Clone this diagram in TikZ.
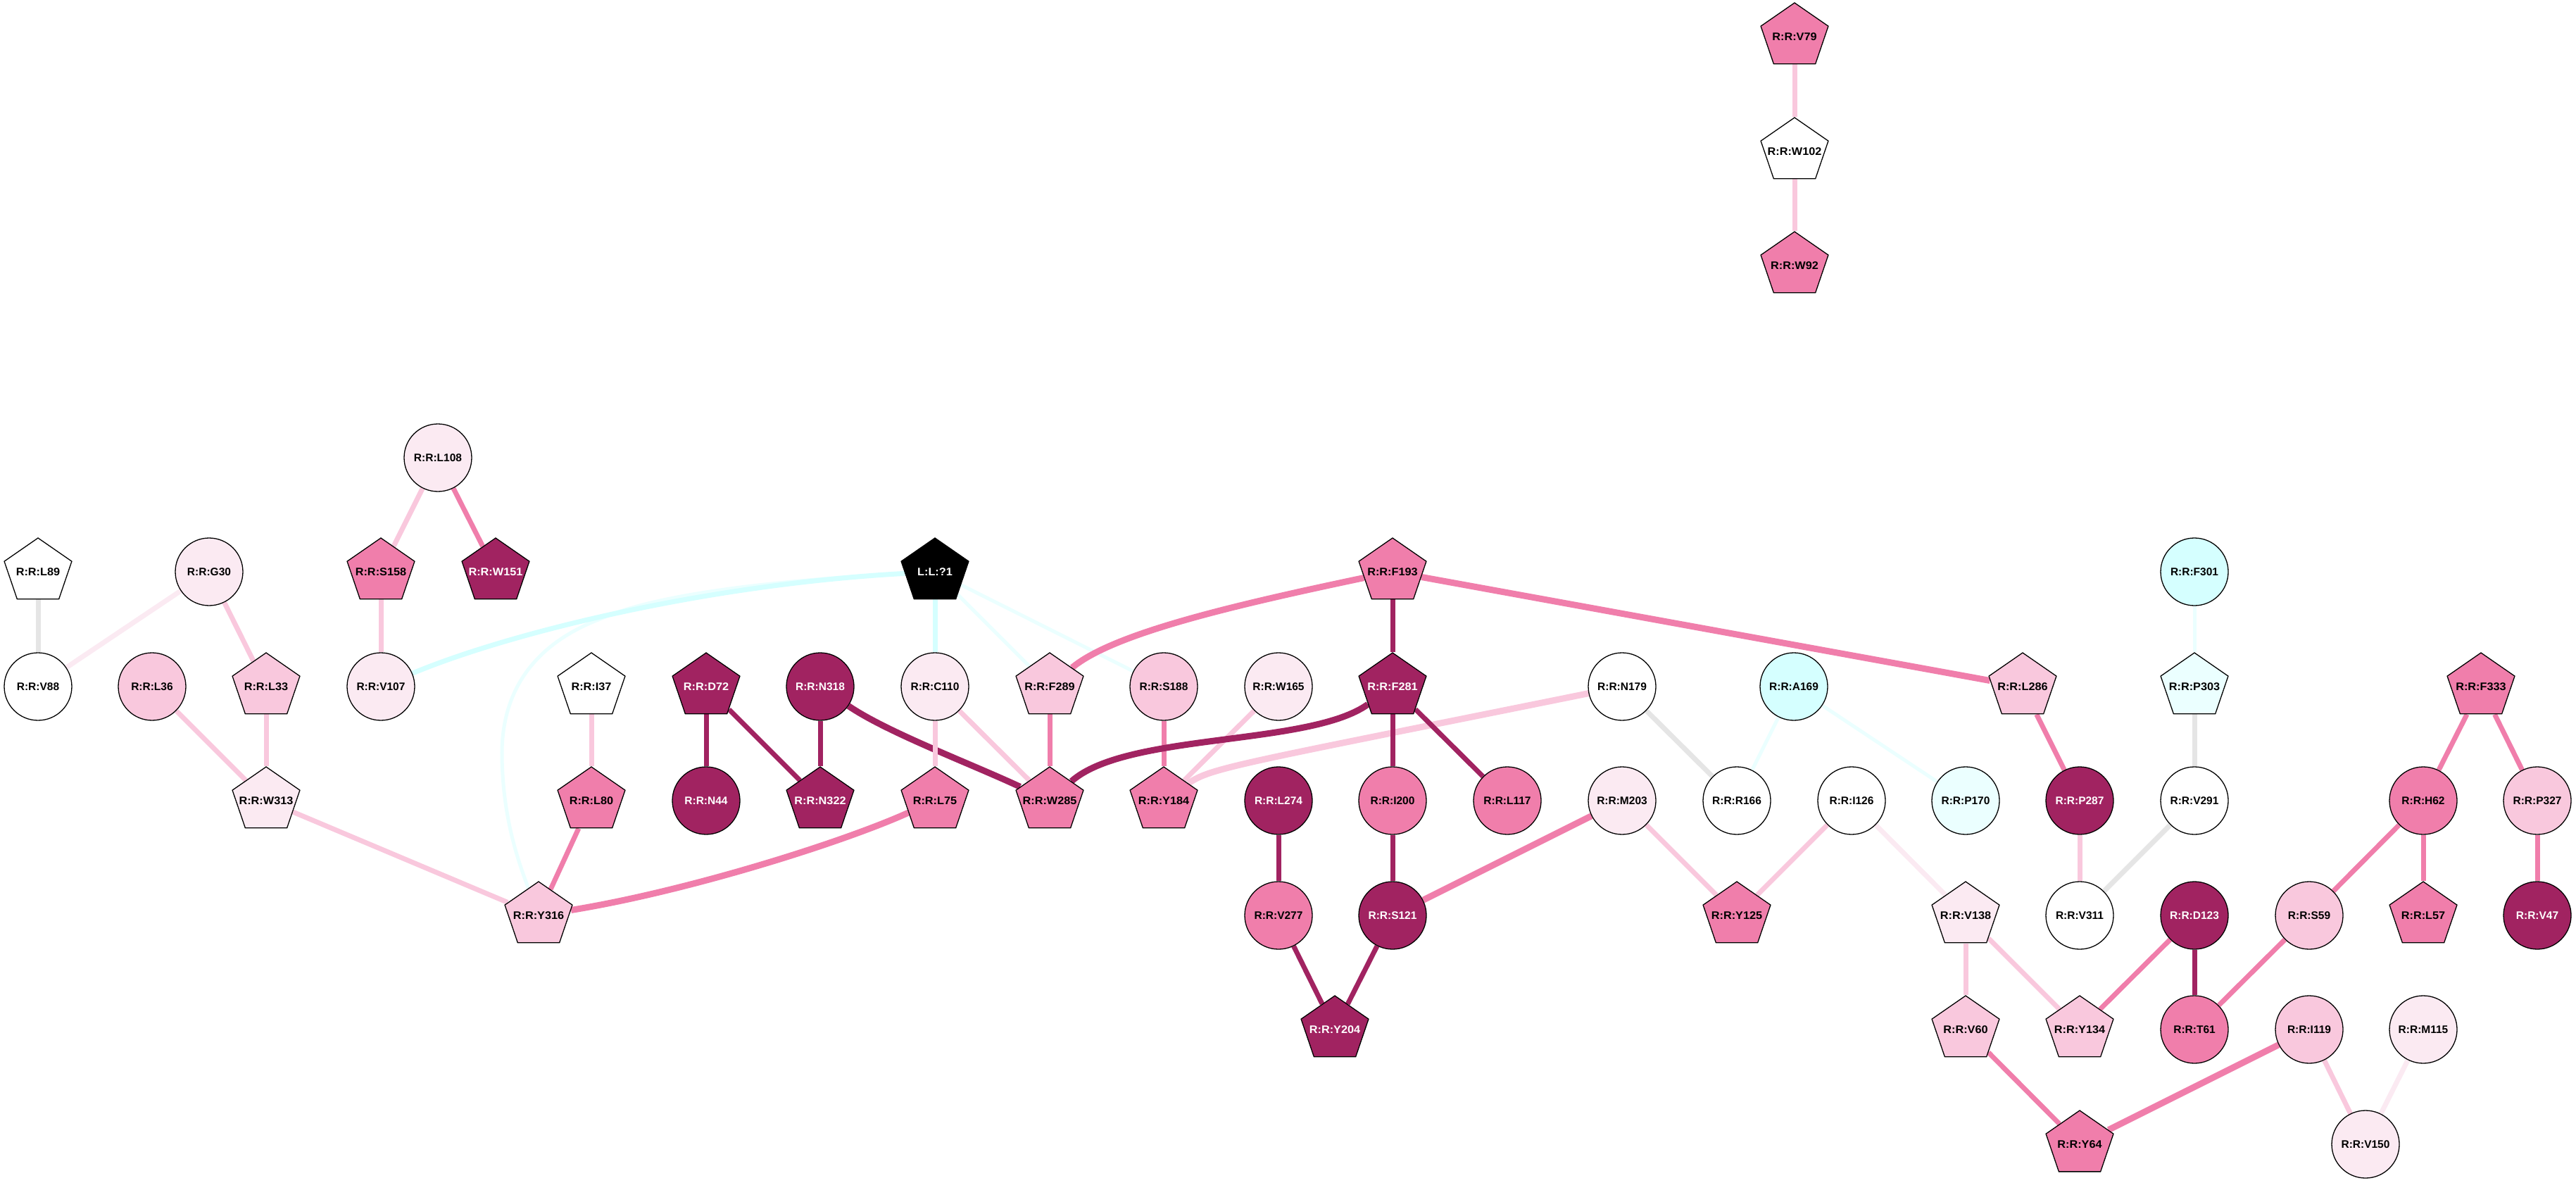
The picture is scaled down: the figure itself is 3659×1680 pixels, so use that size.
\documentclass[tikz,border=0pt]{standalone}
\usepackage{fontspec}
\setmainfont{Liberation Sans}
\usetikzlibrary{shapes.geometric,backgrounds}
\definecolor{cdark}{HTML}{A12361}
\definecolor{cmed}{HTML}{F07EAB}
\definecolor{clight}{HTML}{F9C8DD}
\definecolor{cvlight}{HTML}{FBEAF2}
\definecolor{ccyan}{HTML}{D5FFFF}
\definecolor{cvcyan}{HTML}{EBFFFF}
\definecolor{cgrey}{HTML}{E5E5E5}
\newcommand{\lblfont}{\fontsize{15.5}{18}\selectfont\bfseries}
\newcommand{\lbx}[1]{\makebox[0pt]{#1}}
\tikzset{
  base/.style={draw=black, line width=1.3, inner sep=0, font=\lblfont, text=black},
  pent/.style={base, regular polygon, regular polygon sides=5, minimum size=96, xscale=1.05},
  circ/.style={base, circle, minimum size=96},
  dk/.style={fill=cdark, text=white},
  md/.style={fill=cmed},
  lt/.style={fill=clight},
  vl/.style={fill=cvlight},
  wh/.style={fill=white},
  cy/.style={fill=ccyan},
  vc/.style={fill=cvcyan},
  bk/.style={fill=black, text=white},
  edge/.style={line width=7},
  edk/.style={edge, draw=cdark},
  emd/.style={edge, draw=cmed},
  elt/.style={edge, draw=clight},
  evl/.style={edge, draw=cvlight},
  egr/.style={edge, draw=cgrey},
  ecy/.style={edge, draw=ccyan},
  evc/.style={edge, draw=cvcyan},
  thk/.style={line width=9},
  thn/.style={line width=5},
}
\begin{document}
\begin{tikzpicture}[x=1pt, y=-1pt]
\useasboundingbox (0,0) rectangle (3659,1680);
% top component
\node[pent, md] (V79) at (2549,52) {\lbx{R:R:V79}};
\node[pent, wh] (W102) at (2549,215) {\lbx{R:R:W102}};
\node[pent, md] (W92) at (2549,377) {\lbx{R:R:W92}};
% row 650
\node[circ, vl] (L108) at (622,650) {\lbx{R:R:L108}};
% row 812
\node[pent, wh] (L89) at (54,812) {\lbx{R:R:L89}};
\node[circ, vl] (G30) at (297,812) {\lbx{R:R:G30}};
\node[pent, md] (S158) at (541,812) {\lbx{R:R:S158}};
\node[pent, dk] (W151) at (704,812) {\lbx{R:R:W151}};
\node[pent, bk] (L1) at (1328,812) {\lbx{L:L:?1}};
\node[pent, md] (F193) at (1978,812) {\lbx{R:R:F193}};
\node[circ, cy] (F301) at (3117,812) {\lbx{R:R:F301}};
% row 975
\node[circ, wh] (V88) at (54,975) {\lbx{R:R:V88}};
\node[circ, lt] (L36) at (216,975) {\lbx{R:R:L36}};
\node[pent, lt] (L33) at (378,975) {\lbx{R:R:L33}};
\node[circ, vl] (V107) at (541,975) {\lbx{R:R:V107}};
\node[pent, wh] (I37) at (840,975) {\lbx{R:R:I37}};
\node[pent, dk] (D72) at (1003,975) {\lbx{R:R:D72}};
\node[circ, dk] (N318) at (1165,975) {\lbx{R:R:N318}};
\node[circ, vl] (C110) at (1328,975) {\lbx{R:R:C110}};
\node[pent, lt] (F289) at (1491,975) {\lbx{R:R:F289}};
\node[circ, lt] (S188) at (1653,975) {\lbx{R:R:S188}};
\node[circ, vl] (W165) at (1816,975) {\lbx{R:R:W165}};
\node[pent, dk] (F281) at (1978,975) {\lbx{R:R:F281}};
\node[circ, wh] (N179) at (2304,975) {\lbx{R:R:N179}};
\node[circ, cy] (A169) at (2548,975) {\lbx{R:R:A169}};
\node[pent, lt] (L286) at (2873,975) {\lbx{R:R:L286}};
\node[pent, vc] (P303) at (3117,975) {\lbx{R:R:P303}};
\node[pent, md] (F333) at (3524,975) {\lbx{R:R:F333}};
% row 1137
\node[pent, vl] (W313) at (378,1137) {\lbx{R:R:W313}};
\node[pent, md] (L80) at (840,1137) {\lbx{R:R:L80}};
\node[circ, dk] (N44) at (1003,1137) {\lbx{R:R:N44}};
\node[pent, dk] (N322) at (1165,1137) {\lbx{R:R:N322}};
\node[pent, md] (L75) at (1328,1137) {\lbx{R:R:L75}};
\node[pent, md] (W285) at (1491,1137) {\lbx{R:R:W285}};
\node[pent, md] (Y184) at (1653,1137) {\lbx{R:R:Y184}};
\node[circ, dk] (L274) at (1816,1137) {\lbx{R:R:L274}};
\node[circ, md] (I200) at (1978,1137) {\lbx{R:R:I200}};
\node[circ, md] (L117) at (2141,1137) {\lbx{R:R:L117}};
\node[circ, vl] (M203) at (2304,1137) {\lbx{R:R:M203}};
\node[circ, wh] (R166) at (2467,1137) {\lbx{R:R:R166}};
\node[circ, wh] (I126) at (2630,1137) {\lbx{R:R:I126}};
\node[circ, vc] (P170) at (2792,1137) {\lbx{R:R:P170}};
\node[circ, dk] (P287) at (2954,1137) {\lbx{R:R:P287}};
\node[circ, wh] (V291) at (3117,1137) {\lbx{R:R:V291}};
\node[circ, md] (H62) at (3442,1137) {\lbx{R:R:H62}};
\node[circ, lt] (P327) at (3604,1137) {\lbx{R:R:P327}};
% row 1300
\node[pent, lt] (Y316) at (765,1300) {\lbx{R:R:Y316}};
\node[circ, md] (V277) at (1816,1300) {\lbx{R:R:V277}};
\node[circ, dk] (S121) at (1978,1300) {\lbx{R:R:S121}};
\node[pent, md] (Y125) at (2467,1300) {\lbx{R:R:Y125}};
\node[pent, vl] (V138) at (2792,1300) {\lbx{R:R:V138}};
\node[circ, wh] (V311) at (2954,1300) {\lbx{R:R:V311}};
\node[circ, dk] (D123) at (3117,1300) {\lbx{R:R:D123}};
\node[circ, lt] (S59) at (3280,1300) {\lbx{R:R:S59}};
\node[pent, md] (L57) at (3442,1300) {\lbx{R:R:L57}};
\node[circ, dk] (V47) at (3604,1300) {\lbx{R:R:V47}};
% row 1462
\node[pent, dk] (Y204) at (1896,1462) {\lbx{R:R:Y204}};
\node[pent, lt] (V60) at (2792,1462) {\lbx{R:R:V60}};
\node[pent, lt] (Y134) at (2954,1462) {\lbx{R:R:Y134}};
\node[circ, md] (T61) at (3117,1462) {\lbx{R:R:T61}};
\node[circ, lt] (I119) at (3280,1462) {\lbx{R:R:I119}};
\node[circ, vl] (M115) at (3442,1462) {\lbx{R:R:M115}};
% row 1625
\node[pent, md] (Y64) at (2954,1625) {\lbx{R:R:Y64}};
\node[circ, vl] (V150) at (3360,1625) {\lbx{R:R:V150}};

\begin{pgfonlayer}{background}
\fill[white] (0,0) rectangle (3659,1680);
% top
\draw[elt] (V79) -- (W102);
\draw[elt] (W102) -- (W92);
% left
\draw[egr] (L89) -- (V88);
\draw[evl] (G30) -- (V88);
\draw[elt] (G30) -- (L33);
\draw[elt] (L108) -- (S158);
\draw[emd] (L108) -- (W151);
\draw[elt] (S158) -- (V107);
\draw[elt] (L36) -- (W313);
\draw[elt] (L33) -- (W313);
\draw[elt] (W313) -- (Y316);
\draw[elt] (I37) -- (L80);
\draw[emd] (L80) -- (Y316);
\draw[edk] (D72) -- (N44);
\draw[edk] (D72) -- (N322);
\draw[edk] (N318) -- (N322);
\draw[edk, thk] (N318) .. controls (1260,1040) and (1380,1085) .. (W285);
\draw[emd, thk] (L75) .. controls (1200,1195) and (980,1265) .. (Y316);
% ligand
\draw[evc, thn] (L1) .. controls (1000,830) and (900,858) .. (850,880)
   .. controls (760,915) and (712,980) .. (713,1073)
   .. controls (714,1160) and (735,1220) .. (Y316);
\draw[ecy] (L1) .. controls (1000,830) and (720,900) .. (V107);
\draw[ecy] (L1) -- (C110);
\draw[evc, thn] (L1) -- (F289);
\draw[evc, thn] (L1) -- (S188);
% middle
\draw[elt] (C110) -- (L75);
\draw[elt] (C110) -- (W285);
\draw[emd] (F289) -- (W285);
\draw[emd, thk] (F193) .. controls (1750,860) and (1580,900) .. (F289);
\draw[edk] (F193) -- (F281);
\draw[emd, thk] (F193) -- (L286);
\draw[emd] (S188) -- (Y184);
\draw[elt] (W165) -- (Y184);
\draw[elt, thk] (N179) .. controls (1760,1085) and (1720,1090) .. (Y184);
\draw[egr] (N179) -- (R166);
\draw[edk, thk] (F281) .. controls (1860,1060) and (1600,1040) .. (W285);
\draw[edk] (F281) -- (I200);
\draw[edk] (F281) -- (L117);
\draw[edk] (L274) -- (V277);
\draw[edk] (I200) -- (S121);
\draw[edk] (V277) -- (Y204);
\draw[edk] (S121) -- (Y204);
\draw[emd, thk] (M203) -- (S121);
\draw[elt] (M203) -- (Y125);
% right
\draw[evc, thn] (A169) -- (R166);
\draw[evc, thn] (A169) -- (P170);
\draw[elt] (I126) -- (Y125);
\draw[evl] (I126) -- (V138);
\draw[emd] (L286) -- (P287);
\draw[elt] (P287) -- (V311);
\draw[evc, thn] (F301) -- (P303);
\draw[egr] (P303) -- (V291);
\draw[egr] (V291) -- (V311);
\draw[emd] (F333) -- (H62);
\draw[emd] (F333) -- (P327);
\draw[emd] (H62) -- (S59);
\draw[emd] (H62) -- (L57);
\draw[emd] (P327) -- (V47);
\draw[elt] (V138) -- (V60);
\draw[elt] (V138) -- (Y134);
\draw[emd] (D123) -- (Y134);
\draw[edk] (D123) -- (T61);
\draw[emd] (S59) -- (T61);
\draw[emd] (V60) -- (Y64);
\draw[emd, thk] (I119) -- (Y64);
\draw[elt] (I119) -- (V150);
\draw[evl] (M115) -- (V150);
\end{pgfonlayer}
\end{tikzpicture}
\end{document}
